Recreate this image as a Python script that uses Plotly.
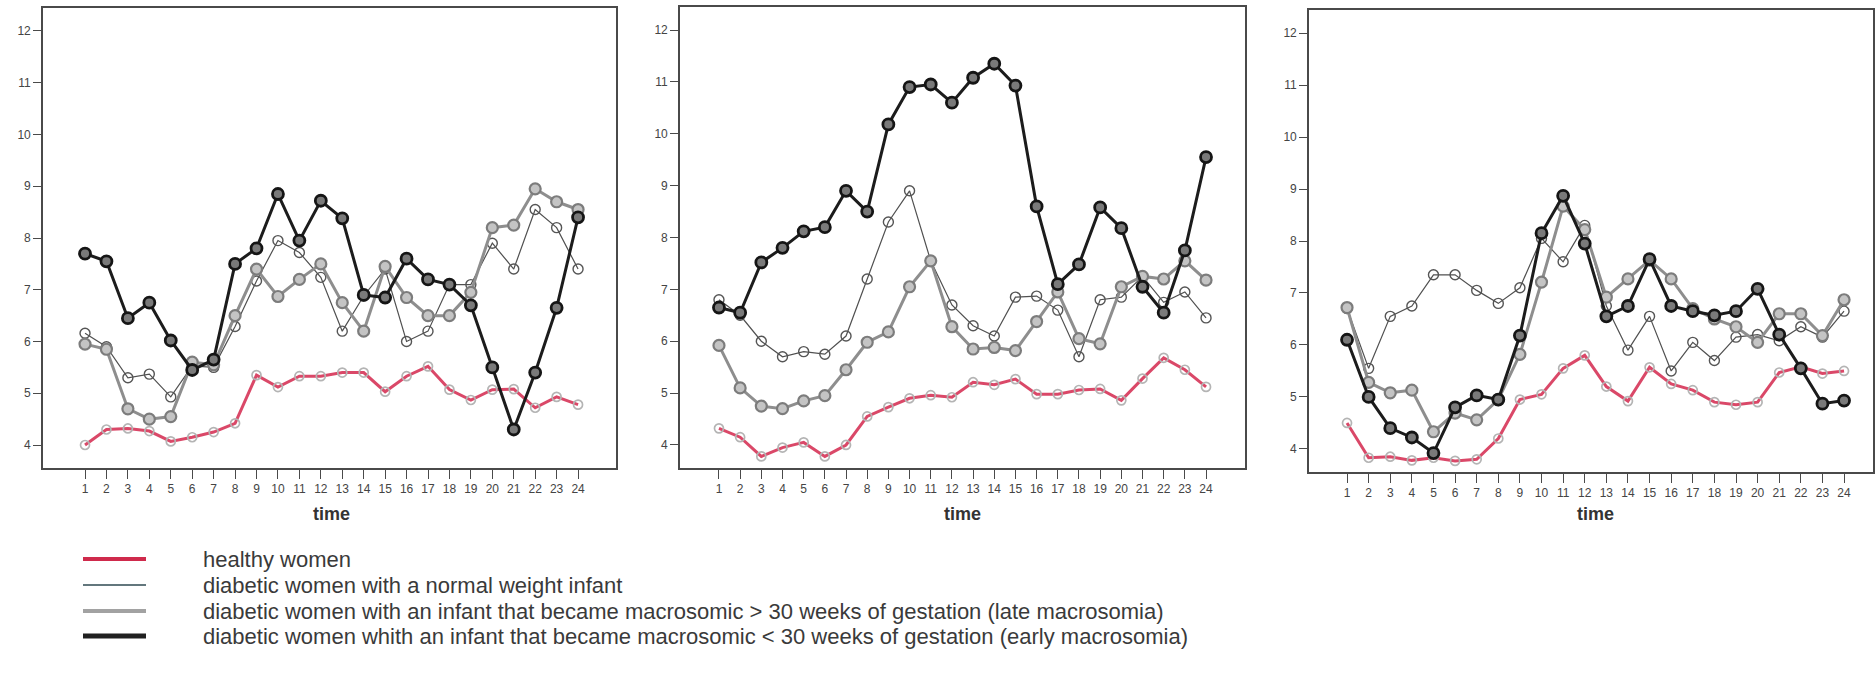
import plotly.graph_objects as go

W, H = 1876, 687

# ---- data: glucose profiles over 24 time points, three panels ----
time = list(range(1, 25))

healthy_1 = [4.0, 4.3, 4.32, 4.27, 4.07, 4.15, 4.25, 4.42, 5.35, 5.12, 5.33, 5.33,
             5.4, 5.4, 5.03, 5.33, 5.52, 5.07, 4.87, 5.07, 5.08, 4.72, 4.93, 4.78]
normal_1 = [6.16, 5.9, 5.3, 5.37, 4.93, 5.53, 5.5, 6.29, 7.17, 7.95, 7.72, 7.24,
            6.2, 6.88, 7.4, 6.0, 6.2, 7.1, 7.1, 7.9, 7.4, 8.55, 8.2, 7.4]
late_1 = [5.95, 5.85, 4.7, 4.5, 4.55, 5.6, 5.55, 6.5, 7.4, 6.87, 7.2, 7.5,
          6.75, 6.2, 7.45, 6.85, 6.5, 6.5, 6.95, 8.2, 8.25, 8.95, 8.7, 8.55]
early_1 = [7.7, 7.55, 6.45, 6.75, 6.02, 5.45, 5.65, 7.5, 7.8, 8.85, 7.95, 8.72,
           8.38, 6.9, 6.85, 7.6, 7.2, 7.1, 6.7, 5.5, 4.3, 5.4, 6.65, 8.4]

healthy_2 = [4.32, 4.15, 3.78, 3.95, 4.05, 3.78, 4.0, 4.55, 4.73, 4.9, 4.96, 4.92,
             5.21, 5.16, 5.27, 4.98, 4.98, 5.06, 5.08, 4.86, 5.28, 5.68, 5.45, 5.12]
normal_2 = [6.8, 6.5, 6.0, 5.7, 5.8, 5.75, 6.1, 7.2, 8.3, 8.9, 7.55, 6.7,
            6.3, 6.1, 6.85, 6.87, 6.6, 5.7, 6.8, 6.85, 7.25, 6.75, 6.95, 6.45]
late_2 = [5.92, 5.1, 4.75, 4.7, 4.85, 4.95, 5.45, 5.98, 6.18, 7.05, 7.55, 6.28,
          5.85, 5.88, 5.82, 6.38, 6.95, 6.05, 5.95, 7.05, 7.25, 7.2, 7.55, 7.18]
early_2 = [6.65, 6.55, 7.52, 7.8, 8.12, 8.2, 8.9, 8.5, 10.18, 10.9, 10.95, 10.6,
           11.08, 11.35, 10.93, 8.6, 7.1, 7.48, 8.58, 8.18, 7.05, 6.55, 7.75, 9.55]

healthy_3 = [4.5, 3.83, 3.85, 3.78, 3.83, 3.77, 3.8, 4.2, 4.95, 5.05, 5.55, 5.8,
             5.2, 4.92, 5.57, 5.25, 5.13, 4.9, 4.85, 4.9, 5.47, 5.58, 5.45, 5.5]
normal_3 = [6.7, 5.55, 6.55, 6.75, 7.35, 7.35, 7.05, 6.8, 7.1, 8.05, 7.6, 8.3,
            6.75, 5.9, 6.55, 5.5, 6.05, 5.7, 6.15, 6.2, 6.08, 6.35, 6.15, 6.65]
late_3 = [6.72, 5.28, 5.08, 5.13, 4.33, 4.69, 4.56, 4.95, 5.82, 7.21, 8.67, 8.22,
          6.92, 7.27, 7.63, 7.27, 6.7, 6.5, 6.35, 6.05, 6.6, 6.6, 6.18, 6.87]
early_3 = [6.1, 5.0, 4.4, 4.22, 3.92, 4.8, 5.03, 4.95, 6.18, 8.15, 8.87, 7.95,
           6.55, 6.75, 7.65, 6.75, 6.65, 6.57, 6.65, 7.08, 6.2, 5.55, 4.87, 4.93]

y_ticks = [4, 5, 6, 7, 8, 9, 10, 11, 12]

legend_labels = [
    "healthy women",
    "diabetic women with a normal weight infant",
    "diabetic women with an infant that became macrosomic > 30 weeks of gestation (late macrosomia)",
    "diabetic women whith an infant that became macrosomic < 30 weeks of gestation (early macrosomia)",
]

panels = [
    (healthy_1, normal_1, late_1, early_1),
    (healthy_2, normal_2, late_2, early_2),
    (healthy_3, normal_3, late_3, early_3),
]

# ---- styling ----
AXIS_COLOR = "#4a4a4a"
FONT = "Liberation Sans, Arial, sans-serif"
TICK_FONT = dict(family=FONT, size=12, color="#444")

styles = {
    "healthy": dict(line=dict(color="rgba(214,52,88,0.9)", width=3),
                    marker=dict(symbol="circle-open", size=9,
                                color="#b4b4b4", line=dict(width=1.7))),
    "normal": dict(line=dict(color="#505050", width=1.2),
                   marker=dict(symbol="circle-open", size=10,
                               color="#555555", line=dict(width=1.4))),
    "late": dict(line=dict(color="#8e8e8e", width=3),
                 marker=dict(symbol="circle", size=11, color="#c4c4c4",
                             line=dict(color="#7c7c7c", width=2.2))),
    "early": dict(line=dict(color="#1c1c1c", width=3),
                  marker=dict(symbol="circle", size=11, color="#7a7a7a",
                              line=dict(color="#151515", width=2.8))),
}

# plot-area boxes in pixels: (left, right, top, bottom) and x-ranges
boxes = [(43, 616, 8, 468), (680, 1245, 7, 468), (1309, 1873, 10, 472)]
x_ranges = [[-0.96, 25.77], [-0.84, 25.84], [-0.76, 25.34]]
y_range = [3.556, 12.444]


def fx(px):
    return px / W


def fy(py):
    return 1 - py / H


fig = go.Figure()
layout_axes = {}

for i, (series, box, xr) in enumerate(zip(panels, boxes, x_ranges)):
    n = "" if i == 0 else str(i + 1)
    xa, ya = "x" + n, "y" + n
    for key, vals in zip(["healthy", "normal", "late", "early"], series):
        st = styles[key]
        fig.add_trace(go.Scatter(x=time, y=vals, xaxis=xa, yaxis=ya,
                                 mode="lines+markers", line=st["line"],
                                 marker=st["marker"], showlegend=False,
                                 hoverinfo="skip"))
    left, right, top, bottom = box
    layout_axes["xaxis" + n] = dict(
        domain=[fx(left), fx(right)], range=xr, anchor=ya,
        tickmode="array", tickvals=time, ticktext=[str(t) for t in time],
        ticks="outside", ticklen=9, tickwidth=1.2, tickcolor=AXIS_COLOR,
        showline=True, linecolor=AXIS_COLOR, linewidth=1.6, mirror=True,
        showgrid=False, zeroline=False, tickfont=TICK_FONT)
    layout_axes["yaxis" + n] = dict(
        domain=[fy(bottom), fy(top)], range=y_range, anchor=xa,
        tickmode="array", tickvals=y_ticks, ticks="outside", ticklen=8,
        tickwidth=1.2, tickcolor=AXIS_COLOR,
        showline=True, linecolor=AXIS_COLOR, linewidth=1.6, mirror=True,
        showgrid=False, zeroline=False, tickfont=TICK_FONT)
    fig.add_annotation(text="<b>time</b>", xref=xa, yref="paper",
                       x=12.5, y=fy(526), showarrow=False,
                       font=dict(family=FONT, size=18, color="#333"))

# ---- legend drawn beneath the panels ----
leg_rows = [559, 585, 611, 636]
swatches = [
    dict(color="#cf2a4c", width=4),
    dict(color="#2f4a52", width=1.5),
    dict(color="#a2a2a2", width=4),
    dict(color="#202020", width=5),
]
for label, row, sw in zip(legend_labels, leg_rows, swatches):
    fig.add_shape(type="line", xref="paper", yref="paper",
                  x0=fx(83), x1=fx(146), y0=fy(row), y1=fy(row), line=sw)
    fig.add_annotation(text=label, xref="paper", yref="paper",
                       x=fx(201), y=fy(row), xanchor="left", yanchor="middle",
                       showarrow=False,
                       font=dict(family=FONT, size=22, color="#3a3a3a"))

fig.update_layout(width=W, height=H, margin=dict(l=0, r=0, t=0, b=0),
                  paper_bgcolor="white", plot_bgcolor="white",
                  showlegend=False, **layout_axes)

fig.write_html("out.html")
